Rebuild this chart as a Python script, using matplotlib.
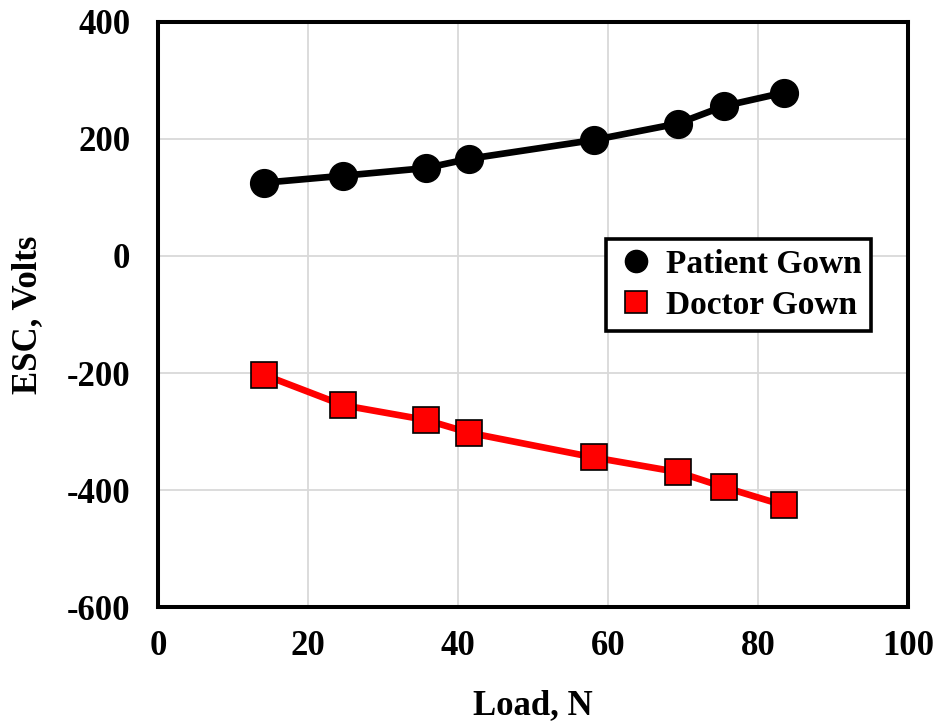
import matplotlib.pyplot as plt

# values
load = [14.1, 24.7, 35.7, 41.5, 58.1, 69.3, 75.5, 83.5]
patient_esc = [125, 137, 150, 166, 198, 226, 256, 279]
doctor_esc = [-203, -255, -280, -302, -344, -369, -395, -426]

plt.rcParams['font.family'] = ['Liberation Serif', 'DejaVu Serif']
plt.rcParams['font.weight'] = 'bold'
plt.rcParams['axes.unicode_minus'] = False

fig = plt.figure(figsize=(9.36, 7.23), dpi=100)
ax = fig.add_axes([0.169, 0.160, 0.801, 0.810])

ax.plot(load, patient_esc, color='black', lw=4.8, marker='o', ms=20,
        mfc='black', mec='black', label='Patient Gown', zorder=3)
ax.plot(load, doctor_esc, color='red', lw=4.8, marker='s', ms=19,
        mfc='red', mec='black', mew=1.2, label='Doctor Gown', zorder=3)

ax.set_xlim(0, 100)
ax.set_ylim(-600, 400)
ax.set_xticks(range(0, 101, 20))
ax.set_yticks(range(-600, 401, 200))
ax.grid(color='#d9d9d9', lw=1.3)
ax.set_axisbelow(True)
ax.tick_params(length=0, labelsize=25)
ax.tick_params(axis='x', pad=16)
ax.tick_params(axis='y', pad=20)
for s in ax.spines.values():
    s.set_linewidth(2.9)

ax.set_xlabel('Load, N', fontsize=25, fontweight='bold', labelpad=19)
ax.set_ylabel('ESC, Volts', fontsize=25, fontweight='bold', labelpad=16)

leg = ax.legend(loc='upper left', bbox_to_anchor=(0.597, 0.629), fontsize=24,
                handlelength=1.2, handletextpad=0.3, borderpad=0.3,
                labelspacing=0.3, fancybox=False, framealpha=1,
                edgecolor='black', markerscale=0.8, borderaxespad=0)
leg.get_frame().set_linewidth(2.6)
for h in leg.legend_handles:
    h.set_linestyle('none')

fig.savefig('out.png', dpi=100)
